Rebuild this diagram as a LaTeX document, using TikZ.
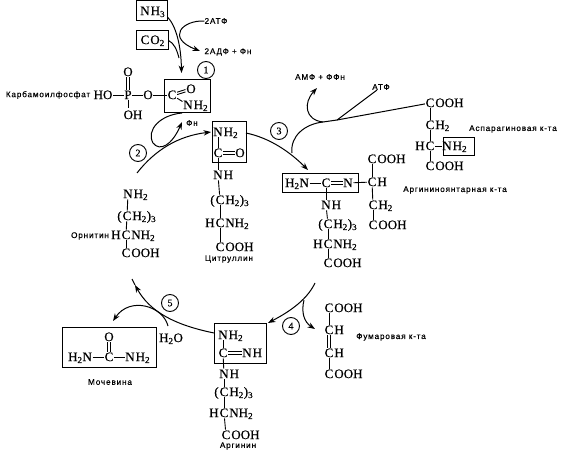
\documentclass[tikz,border=0pt]{standalone}
\usepackage{fontspec}
\setmainfont{Liberation Serif}
\newfontfamily\chemfont[FakeBold=0.5]{Liberation Serif}
\newfontfamily\labelfont[LetterSpace=10,FakeBold=0.4]{Liberation Sans}
\usetikzlibrary{arrows.meta}
\tikzset{
  atom/.style={inner sep=0.6pt, text height=8.6pt, text depth=0.4pt, font=\chemfont\fontsize{13}{15}\selectfont},
  grp/.style={inner sep=0pt, label distance=0pt, text height=8.6pt, text depth=0.4pt, font=\chemfont\fontsize{13}{15}\selectfont},
  bond/.style={line width=0.9pt},
  bondup/.style={line width=0.9pt, transform canvas={yshift=1.2pt}},
  bonddn/.style={line width=0.9pt, transform canvas={yshift=-1.2pt}},
  bondlf/.style={line width=0.9pt, transform canvas={xshift=-1.2pt}},
  bondrt/.style={line width=0.9pt, transform canvas={xshift=1.2pt}},
  molbox/.style={draw, line width=1pt, inner sep=0pt},
  num/.style={draw, circle, line width=0.9pt, minimum size=17pt, inner sep=0pt, font=\chemfont\fontsize{10}{12}\selectfont},
  tag/.style={inner sep=0pt, font=\labelfont\fontsize{8.2}{10}\selectfont},
  flow/.style={line width=1pt, -{Stealth[length=7.5pt,width=5.5pt]}},
  noflow/.style={line width=1pt}
}
\begin{document}
\begin{tikzpicture}[x=1pt, y=-1pt]
\useasboundingbox (0,0) rectangle (579,452);
% boxes
\node[molbox, minimum width=31pt, minimum height=20pt] (nhbox) at (151.5,11) {};
\node[molbox, minimum width=32pt, minimum height=19pt] (cobox) at (152,40.5) {};
\node[molbox, minimum width=46pt, minimum height=33pt] (carbox) at (187,96.5) {};
\node[molbox, minimum width=34pt, minimum height=40pt] (citbox) at (229,142) {};
\node[molbox, minimum width=76pt, minimum height=19pt] (sucbox) at (320,182.5) {};
\node[molbox, minimum width=31pt, minimum height=18pt] (aspbox) at (458.5,146) {};
\node[molbox, minimum width=52pt, minimum height=40pt] (argbox) at (240,343) {};
\node[molbox, minimum width=94pt, minimum height=40pt] (urebox) at (109,347) {};
% top of the picture
\node[atom, label={[grp]right:H\textsubscript{3}}] (nh) at (145,11) {N};
\node[atom, label={[grp]right:O\textsubscript{2}}] (co) at (145,40) {C};
\node[tag] (atp) at (216,21) {2АТФ};
\node[tag] (adp) at (228,52) {2АДФ + Фн};
\node[num] (n1) at (206,70) {1};
\coordinate (joint) at (179,58);
\coordinate (intocar) at (181.5,73);
\coordinate (adpend) at (200,51);
\draw[flow] (nhbox.east) ++(0,6) .. controls (176,26) and (181,45) .. (intocar);
\draw[noflow] (cobox.east) .. controls (174,43) and (177,50) .. (joint);
\draw[flow] (atp.west) .. controls (182,20) and (166,38) .. (adpend);
% carbamoyl phosphate
\node[tag] (carname) at (48,95) {Карбамоилфосфат};
\node[atom] (ho) at (103,95) {HO};
\node[atom] (pp) at (128,95) {P};
\node[atom] (po) at (148,95) {O};
\node[atom] (pc) at (172,95) {C};
\node[atom] (ptop) at (128,72) {O};
\node[atom] (poh) at (133,115) {OH};
\node[atom] (codo) at (191,89) {O};
\node[atom, label={[grp]right:H\textsubscript{2}}] (conh) at (188,105) {N};
\coordinate (pohtop) at (128,108);
\draw[bond] (ho) -- (pp);
\draw[bond] (pp) -- (po);
\draw[bond] (po) -- (pc);
\draw[bondlf] (pp) -- (ptop);
\draw[bondrt] (pp) -- (ptop);
\draw[bond] (pp) -- (pohtop);
\draw[bondup] (pc) -- (codo);
\draw[bonddn] (pc) -- (codo);
\draw[bond] (pc) -- (conh);
% step 2 and ornithine
\node[num] (n2) at (138,153) {2};
\coordinate (ornend) at (137,173);
\coordinate (citin) at (211,132);
\coordinate (loopstart) at (182,113);
\coordinate (loopbot) at (153,143);
\coordinate (loopend) at (182,122);
\node[tag] (fn) at (192,123) {Фн};
\draw[flow] (ornend) .. controls (155,150) and (178,136) .. (citin);
\draw[flow] (loopstart) .. controls (160,115) and (146,130) .. (loopbot) .. controls (160,152) and (172,145) .. (loopend);
\node[atom, label={[grp]right:H\textsubscript{2}}] (orna) at (128,194) {N};
\node[atom, label={[grp]right:H\textsubscript{2})\textsubscript{3}}] (ornb) at (127,216) {C};
\node[grp, anchor=east] (ornpar) at (ornb.west) {(};
\node[atom, label={[grp]left:H}, label={[grp]right:NH\textsubscript{2}}] (ornc) at (126,235) {C};
\node[atom, label={[grp]right:OOH}] (ornd) at (126,253) {C};
\node[tag] (ornname) at (90,236) {Орнитин};
\draw[bond] (orna) -- (ornb);
\draw[bond] (ornb) -- (ornc);
\draw[bond] (ornc) -- (ornd);
% citrulline
\node[atom, label={[grp]right:H\textsubscript{2}}] (cita) at (218,132) {N};
\node[atom] (citb) at (218,153) {C};
\node[atom] (citbo) at (240,153) {O};
\node[atom, label={[grp]right:H}] (citc) at (218,175) {N};
\node[atom, label={[grp]right:H\textsubscript{2})\textsubscript{3}}] (citd) at (220,200) {C};
\node[grp, anchor=east] (citpar) at (citd.west) {(};
\node[atom, label={[grp]left:H}, label={[grp]right:NH\textsubscript{2}}] (cite) at (220,223) {C};
\node[atom, label={[grp]right:OOH}] (citf) at (220,247) {C};
\node[tag] (citname) at (229,259) {Цитруллин};
\draw[bond] (cita) -- (citb);
\draw[bondup] (citb) -- (citbo);
\draw[bonddn] (citb) -- (citbo);
\draw[bond] (citb) -- (citc);
\draw[bond] (citc) -- (citd);
\draw[bond] (citd) -- (cite);
\draw[bond] (cite) -- (citf);
% step 3 and aspartate
\node[num] (n3) at (279,131) {3};
\coordinate (citout) at (246,133);
\coordinate (sucin) at (308,170);
\draw[flow] (citout) .. controls (270,138) and (290,152) .. (sucin);
\node[atom, label={[grp]right:OOH}] (aspa) at (430,103) {C};
\node[atom, label={[grp]right:H\textsubscript{2}}] (aspb) at (430,125) {C};
\node[atom, label={[grp]left:H}] (aspc) at (430,146) {C};
\node[atom, label={[grp]right:H\textsubscript{2}}] (aspn) at (447,146) {N};
\node[atom, label={[grp]right:OOH}] (aspd) at (430,166) {C};
\node[tag] (aspname) at (513,129) {Аспарагиновая к-та};
\coordinate (aspj) at (337,120);
\coordinate (ampj) at (323,122);
\coordinate (mergej) at (292,153);
\coordinate (ampend) at (317,88);
\coordinate (atpj) at (337,120);
\node[tag] (ampname) at (320,77) {АМФ + ФФн};
\node[tag] (atpname) at (381,87) {АТФ};
\draw[noflow] (aspa) -- (aspj) -- (ampj) .. controls (305,124) and (290,136) .. (mergej);
\draw[flow] (ampj) .. controls (305,120) and (303,103) .. (ampend);
\draw[noflow] (atpname) -- (atpj);
\draw[bond] (aspa) -- (aspb);
\draw[bond] (aspb) -- (aspc);
\draw[bond] (aspc) -- (aspn);
\draw[bond] (aspc) -- (aspd);
% argininosuccinate
\node[atom] (suca) at (297,183) {H\textsubscript{2}N};
\node[atom] (sucb) at (326,183) {C};
\node[atom] (succ) at (348,183) {N};
\node[atom, label={[grp]right:H}] (sucd) at (372,182) {C};
\node[atom, label={[grp]right:OOH}] (suce) at (372,159) {C};
\node[atom, label={[grp]right:H\textsubscript{2}}] (sucf) at (373,205) {C};
\node[atom, label={[grp]right:OOH}] (sucg) at (373,225) {C};
\node[atom, label={[grp]right:H}] (such) at (326,205) {N};
\node[atom, label={[grp]right:H\textsubscript{2})\textsubscript{3}}] (suci) at (328,224) {C};
\node[grp, anchor=east] (sucpar) at (suci.west) {(};
\node[atom, label={[grp]left:H}, label={[grp]right:NH\textsubscript{2}}] (sucj) at (328,244) {C};
\node[atom, label={[grp]right:OOH}] (suck) at (328,263) {C};
\node[tag] (sucname) at (455,190) {Аргининоянтарная к-та};
\draw[bond] (suca) -- (sucb);
\draw[bondup] (sucb) -- (succ);
\draw[bonddn] (sucb) -- (succ);
\draw[bond] (succ) -- (sucd);
\draw[bond] (sucd) -- (suce);
\draw[bond] (sucd) -- (sucf);
\draw[bond] (sucf) -- (sucg);
\draw[bond] (sucb) -- (such);
\draw[bond] (such) -- (suci);
\draw[bond] (suci) -- (sucj);
\draw[bond] (sucj) -- (suck);
% step 4 and fumarate
\node[num] (n4) at (291,326) {4};
\coordinate (sucout) at (315,283);
\coordinate (argin) at (268,323);
\coordinate (fumj) at (304,300);
\coordinate (fumend) at (315,329);
\draw[flow] (sucout) .. controls (306,302) and (285,314) .. (argin);
\draw[flow] (fumj) .. controls (301,312) and (304,322) .. (fumend);
\node[atom, label={[grp]right:OOH}] (fuma) at (329,308) {C};
\node[atom, label={[grp]right:H}] (fumb) at (329,330) {C};
\node[atom, label={[grp]right:H}] (fumc) at (329,353) {C};
\node[atom, label={[grp]right:OOH}] (fumd) at (329,374) {C};
\node[tag] (fumname) at (391,337) {Фумаровая к-та};
\draw[bond] (fuma) -- (fumb);
\draw[bondlf] (fumb) -- (fumc);
\draw[bondrt] (fumb) -- (fumc);
\draw[bond] (fumc) -- (fumd);
% arginine
\node[atom, label={[grp]right:H\textsubscript{2}}] (arga) at (223,335) {N};
\node[atom] (argb) at (223,353) {C};
\node[atom, label={[grp]right:H}] (argc) at (247,353) {N};
\node[atom, label={[grp]right:H}] (argd) at (224,374) {N};
\node[atom, label={[grp]right:H\textsubscript{2})\textsubscript{3}}] (arge) at (224,392) {C};
\node[grp, anchor=east] (argpar) at (arge.west) {(};
\node[atom, label={[grp]left:H}, label={[grp]right:NH\textsubscript{2}}] (argf) at (224,413) {C};
\node[atom, label={[grp]right:OOH}] (argg) at (226,435) {C};
\node[tag] (argname) at (238,446) {Аргинин};
\draw[bond] (arga) -- (argb);
\draw[bondup] (argb) -- (argc);
\draw[bonddn] (argb) -- (argc);
\draw[bond] (argb) -- (argd);
\draw[bond] (argd) -- (arge);
\draw[bond] (arge) -- (argf);
\draw[bond] (argf) -- (argg);
% step 5 and urea
\node[num] (n5) at (170,303) {5};
\node[atom] (water) at (171,338) {H\textsubscript{2}O};
\coordinate (argout) at (214,333);
\coordinate (ornmid) at (135,285);
\coordinate (ornin) at (132,279);
\coordinate (waterup) at (168,326);
\coordinate (ureend) at (113,321);
\draw[flow] (argout) .. controls (175,325) and (150,312) .. (ornmid);
\draw[noflow] (ornmid) -- (ornin);
\draw[flow] (waterup) .. controls (163,306) and (130,296) .. (ureend);
\node[atom] (urea) at (80,357) {H\textsubscript{2}N};
\node[atom] (ureb) at (109,357) {C};
\node[atom] (urec) at (109,337) {O};
\node[atom, label={[grp]right:H\textsubscript{2}}] (ured) at (130,357) {N};
\node[tag] (urename) at (110,382) {Мочевина};
\draw[bond] (urea) -- (ureb);
\draw[bondlf] (ureb) -- (urec);
\draw[bondrt] (ureb) -- (urec);
\draw[bond] (ureb) -- (ured);
\end{tikzpicture}
\end{document}
